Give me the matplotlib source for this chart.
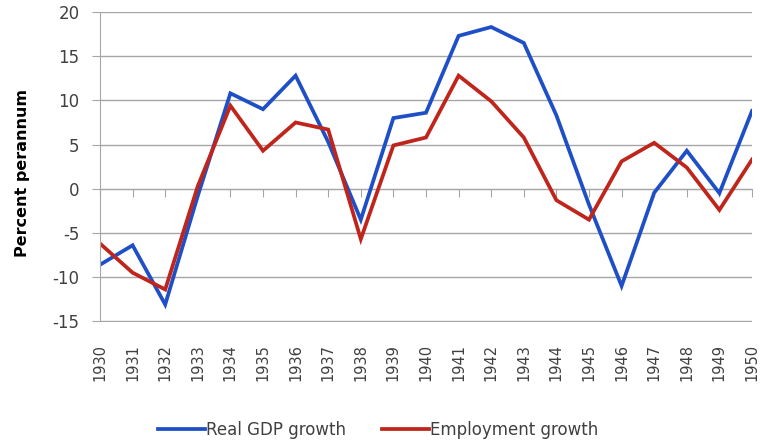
import matplotlib
matplotlib.use("Agg")
import matplotlib.pyplot as plt

years = list(range(1930, 1951))
gdp_growth = [-8.6, -6.4, -13.1, -0.8, 10.8, 9.0, 12.8, 5.3, -3.5, 8.0, 8.6,
              17.3, 18.3, 16.5, 8.3, -1.8, -11.0, -0.45, 4.3, -0.5, 8.8]
emp_growth = [-6.2, -9.5, -11.4, 0.3, 9.4, 4.3, 7.5, 6.7, -5.7, 4.9, 5.8,
              12.8, 9.9, 5.8, -1.3, -3.5, 3.1, 5.2, 2.4, -2.4, 3.3]
y_ticks = [-15, -10, -5, 0, 5, 10, 15, 20]
series_names = ["Real GDP growth", "Employment growth"]

BLUE = "#1f4fc6"
RED = "#c0251c"
GRID = "#a6a6a6"
TXT = "#404040"

plt.rcParams['font.family'] = ['DejaVu Sans']
plt.rcParams['axes.unicode_minus'] = False
fig = plt.figure(figsize=(7.61, 4.46), dpi=100)
ax = fig.add_axes([100/761, 1-322/446, 652/761, 310/446])

ax.plot(years, gdp_growth, color=BLUE, lw=2.7, label=series_names[0], solid_joinstyle='miter')
ax.plot(years, emp_growth, color=RED, lw=2.7, label=series_names[1], solid_joinstyle='miter')

ax.set_xlim(1930, 1950)
ax.set_ylim(-15.08, 20)
ax.set_yticks(y_ticks)
ax.yaxis.grid(True, color=GRID, lw=1.0)
ax.set_axisbelow(True)
for s in ['top', 'right', 'bottom']:
    ax.spines[s].set_visible(False)
ax.spines['left'].set_color(GRID)
ax.spines['left'].set_bounds(-15, 20)
ax.tick_params(axis='y', colors=GRID, length=5.8, labelcolor=TXT, labelsize=12, pad=9)

ax.set_xticks(years)
ax.set_xticklabels([str(y) for y in years], rotation=90, fontsize=10.5, color=TXT)
ax.tick_params(axis='x', length=0, pad=16)

sec = ax.secondary_xaxis(15.08/35.08)
sec.set_xticks(years)
sec.tick_params(axis='x', direction='out', length=5.5, color=GRID, labelbottom=False)
sec.spines['bottom'].set_color(GRID)

ax.set_ylabel("Percent perannum", fontsize=11.5, fontweight='bold')
ax.yaxis.set_label_coords(-0.107, 0.48)

leg = fig.legend(loc='center', bbox_to_anchor=(0.497, 1-430/446), ncol=2, frameon=False,
                 fontsize=12, handlelength=2.8, handletextpad=0.05, columnspacing=2.2)
for t in leg.get_texts():
    t.set_color(TXT)

fig.savefig("out.png", dpi=100)
